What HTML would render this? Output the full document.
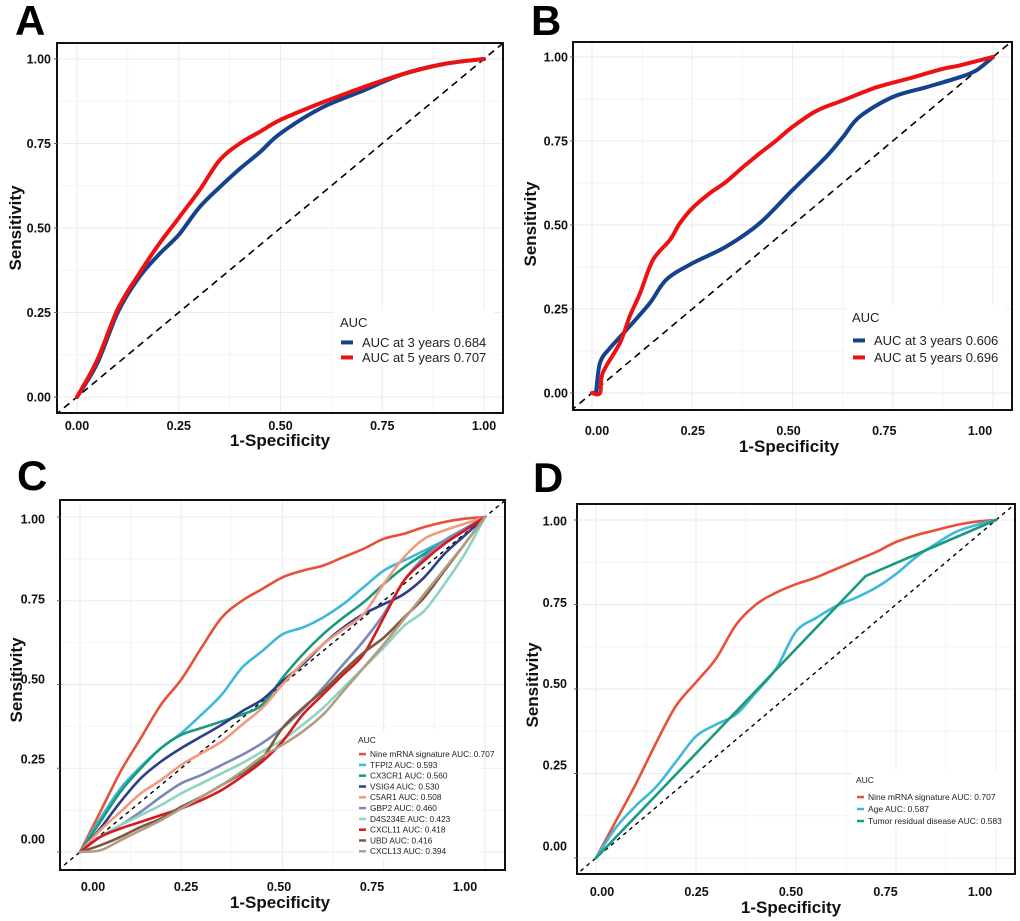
<!DOCTYPE html>
<html><head><meta charset="utf-8">
<style>
html,body{margin:0;padding:0;background:#fff;}
svg{display:block;font-family:"Liberation Sans",Arial,sans-serif;}
</style></head>
<body>
<svg id="fig" width="1020" height="921" viewBox="0 0 1020 921" xmlns="http://www.w3.org/2000/svg"></svg>
<script>
// ---------- data ----------
const tickLabels = ["0.00","0.25","0.50","0.75","1.00"];
const tickValues = [0,0.25,0.5,0.75,1];
const grid = [0,.05,.1,.15,.2,.25,.3,.35,.4,.45,.5,.55,.6,.65,.7,.75,.8,.85,.9,.95,1];

// Panel A
const aFpr = [0,.05,.1,.15,.2,.25,.3,.35,.4,.45,.5,.6,.7,.8,.9,1];
const aRed5 = [0,.11,.26,.36,.45,.53,.61,.70,.75,.785,.82,.87,.915,.955,.985,1];
const aBlue3 = [0,.10,.25,.35,.42,.48,.56,.62,.675,.725,.78,.855,.905,.955,.985,1];
const aLabels = ["AUC at 3 years 0.684","AUC at 5 years 0.707"];

// Panel B
const bBlueFpr = [.01,.02,.045,.086,.144,.185,.25,.335,.418,.5,.584,.626,.667,.75,.834,.917,.958,1];
const bBlue3 = [0,.09,.134,.188,.267,.337,.386,.436,.505,.604,.703,.762,.822,.881,.91,.94,.96,1];
const bRedFpr = [0,.02,.027,.07,.094,.12,.152,.194,.219,.25,.293,.335,.377,.418,.46,.5,.56,.626,.71,.79,.875,.917,1];
const bRed5 = [0,0,.06,.15,.228,.297,.396,.455,.505,.55,.594,.629,.673,.713,.752,.792,.84,.871,.91,.936,.965,.975,1];
const bLabels = ["AUC at 3 years 0.606","AUC at 5 years 0.696"];

// Panel C
const cNames = ["Nine mRNA signature AUC: 0.707","TFPI2  AUC: 0.593","CX3CR1  AUC: 0.560","VSIG4  AUC: 0.530","C5AR1  AUC: 0.508","GBP2  AUC: 0.460","D4S234E  AUC: 0.423","CXCL11  AUC: 0.418","UBD  AUC: 0.416","CXCL13  AUC: 0.394"];
const cColors = ["#e8503a","#3fb8da","#1a9a7f","#2c3f86","#f29a7e","#7b87b8","#8fd3c1","#d7191c","#7a5a3f","#b39c85"];
const cNine   = [0,.12,.24,.34,.44,.515,.61,.70,.75,.785,.82,.84,.855,.88,.905,.935,.95,.97,.985,.995,1];
const cTFPI2  = [0,.10,.19,.255,.31,.355,.41,.47,.55,.60,.65,.67,.70,.74,.79,.84,.87,.90,.93,.965,1];
const cCX3CR1 = [0,.09,.18,.25,.31,.35,.37,.39,.41,.44,.52,.59,.65,.70,.745,.80,.85,.89,.93,.965,1];
const cVSIG4  = [0,.07,.15,.22,.27,.31,.345,.38,.42,.455,.51,.56,.62,.67,.71,.74,.77,.82,.89,.945,1];
const cC5AR1  = [0,.065,.12,.175,.215,.26,.295,.33,.38,.43,.50,.565,.62,.665,.71,.80,.88,.935,.96,.98,1];
const cGBP2   = [0,.045,.08,.12,.165,.205,.23,.26,.29,.325,.37,.425,.49,.56,.63,.71,.81,.88,.93,.965,1];
const cD4S234E= [0,.045,.08,.11,.14,.175,.205,.235,.265,.30,.335,.38,.43,.49,.55,.61,.675,.72,.80,.89,1];
const cCXCL11 = [0,.045,.07,.09,.11,.13,.155,.185,.225,.27,.33,.41,.47,.53,.59,.70,.81,.87,.92,.96,1];
const cUBD    = [0,.02,.045,.075,.10,.135,.165,.20,.235,.28,.37,.43,.48,.54,.595,.64,.70,.76,.84,.92,1];
const cCXCL13 = [0,.005,.035,.065,.095,.13,.165,.20,.24,.285,.32,.36,.41,.48,.55,.62,.695,.77,.845,.92,1];
const cSeries = [cNine,cTFPI2,cCX3CR1,cVSIG4,cC5AR1,cGBP2,cD4S234E,cCXCL11,cUBD,cCXCL13];

// Panel D
const dNames = ["Nine mRNA signature AUC: 0.707","Age AUC: 0.587","Tumor residual disease AUC: 0.583"];
const dColors = ["#e8503a","#3fb8da","#1a9a7f"];
const dNine = [0,.11,.22,.34,.45,.52,.59,.69,.75,.785,.81,.83,.855,.88,.905,.935,.955,.97,.985,.995,1];
const dAge  = [0,.09,.155,.21,.285,.36,.395,.425,.49,.56,.67,.71,.745,.77,.80,.84,.89,.93,.965,.985,1];
const dTumorFpr = [0,.674,1];
const dTumor = [0,.834,1];

// ---------- helpers ----------
const NS="http://www.w3.org/2000/svg";
const svg=document.getElementById('fig');
function el(tag,attrs,parent){const e=document.createElementNS(NS,tag);for(const k in attrs)e.setAttribute(k,attrs[k]);(parent||svg).appendChild(e);return e;}
function smoothPath(pts){
  let d="M"+pts[0][0].toFixed(1)+","+pts[0][1].toFixed(1);
  for(let i=0;i<pts.length-1;i++){
    const p0=pts[Math.max(0,i-1)],p1=pts[i],p2=pts[i+1],p3=pts[Math.min(pts.length-1,i+2)];
    const c1=[p1[0]+(p2[0]-p0[0])/6,p1[1]+(p2[1]-p0[1])/6];
    const c2=[p2[0]-(p3[0]-p1[0])/6,p2[1]-(p3[1]-p1[1])/6];
    d+="C"+c1[0].toFixed(1)+","+c1[1].toFixed(1)+" "+c2[0].toFixed(1)+","+c2[1].toFixed(1)+" "+p2[0].toFixed(1)+","+p2[1].toFixed(1);
  }
  return d;
}
let clipId=0;
function makePanel(cfg){
  const g=el('g',{});
  
  
  const sx=v=>cfg.x0+(cfg.x1-cfg.x0)*v;
  const sy=v=>cfg.y0+(cfg.y1-cfg.y0)*v;
  const lx=v=>cfg.lx0+(cfg.lx1-cfg.lx0)*v;
  const ly=v=>cfg.ly0+(cfg.ly1-cfg.ly0)*v;
  const b=cfg.box;
  const id='clip'+(clipId++);
  const cp=el('clipPath',{id:id},g);el('rect',{x:b[0],y:b[1],width:b[2]-b[0],height:b[3]-b[1]},cp);
  const gridG=el('g',{'clip-path':'url(#'+id+')'},g);
  
  for(let i=0;i<tickValues.length;i++){
    const v=tickValues[i];
    el('line',{x1:sx(v),x2:sx(v),y1:b[1],y2:b[3],stroke:'#ebebeb','stroke-width':1},gridG);
    el('line',{y1:sy(v),y2:sy(v),x1:b[0],x2:b[2],stroke:'#ebebeb','stroke-width':1},gridG);
    if(i<tickValues.length-1){const m=v+0.125;
      el('line',{x1:sx(m),x2:sx(m),y1:b[1],y2:b[3],stroke:'#f4f4f4','stroke-width':1},gridG);
      el('line',{y1:sy(m),y2:sy(m),x1:b[0],x2:b[2],stroke:'#f4f4f4','stroke-width':1},gridG);}
  }
  const dg=el('line',{x1:sx(-0.1),y1:sy(-0.1),x2:sx(1.1),y2:sy(1.1),stroke:'#000','stroke-width':cfg.dashW,'stroke-dasharray':cfg.dash,'clip-path':'url(#'+id+')'},g);
  
  const cg=el('g',{'clip-path':'url(#'+id+')',fill:'none','stroke-linejoin':'round','stroke-linecap':'round'},g);
  cfg.series.forEach(s=>{
    const pts=s.fpr.map((f,i)=>[sx(f),sy(s.tpr[i])]);
    const p=el('path',{d:s.straight?("M"+pts.map(q=>q[0]+","+q[1]).join("L")):smoothPath(pts),stroke:s.color,'stroke-width':cfg.lw},cg);
    
  });
  const border=el('rect',{x:b[0],y:b[1],width:b[2]-b[0],height:b[3]-b[1],fill:'none',stroke:'#111','stroke-width':2},g);
  
  const xt=el('g',{'font-size':cfg.tickFs,'font-weight':'bold','text-anchor':'middle',fill:'#111'},g);
  
  const yt=el('g',{'font-size':cfg.tickFs,'font-weight':'bold','text-anchor':'end',fill:'#111'},g);
  
  tickValues.forEach((v,i)=>{
    const t=el('text',{x:lx(v),y:cfg.xTickY},xt);t.textContent=tickLabels[i];
    
    const u=el('text',{x:cfg.yTickX,y:ly(v)+4.5},yt);u.textContent=tickLabels[i];
    
    el('line',{x1:b[0]-3,x2:b[0],y1:sy(v),y2:sy(v),stroke:'#666','stroke-width':1},g);
  });
  const xtitle=el('text',{x:cfg.xTitle[0],y:cfg.xTitle[1],'font-size':17,'font-weight':'bold','text-anchor':'middle',fill:'#111'},g);
  xtitle.textContent='1-Specificity';
  const ytitle=el('text',{x:0,y:0,'font-size':17,'font-weight':'bold','text-anchor':'middle',fill:'#111',transform:'translate('+cfg.yTitle[0]+','+cfg.yTitle[1]+') rotate(-90)'},g);
  ytitle.textContent='Sensitivity';
  const lt=el('text',{x:cfg.letterPos[0],y:cfg.letterPos[1],'font-size':42,'font-weight':'bold',fill:'#000'},g);
  lt.textContent=cfg.letter;
  const L=cfg.legend;
  const lg=el('g',{},g);
  el('rect',{x:L.bx,y:L.by,width:L.bw,height:L.bh,fill:'#fff'},lg);
  const lh=el('text',{x:L.x,y:L.y,'font-size':L.hfs,fill:'#222'},lg);lh.textContent='AUC';
  
  cfg.series.forEach((s,i)=>{
    const yy=L.y0+i*L.step;
    const e=el('g',{},lg);
    el('line',{x1:L.x+1,x2:L.x+1+L.sw,y1:yy-L.fs*0.35,y2:yy-L.fs*0.35,stroke:s.color,'stroke-width':L.swh},e);
    const t=el('text',{x:L.x+L.sw+L.gap,y:yy,'font-size':L.fs,fill:'#222'},e);t.textContent=s.label;
  });
}

makePanel({letter:'A',letterPos:[15,35],box:[57,43,503,413],x0:77,x1:484,y0:397,y1:59,lx0:77,lx1:484,ly0:397,ly1:59,
  xTickY:430,yTickX:51,tickFs:12.5,xTitle:[280,446],yTitle:[21,228],lw:4,dash:'7,5',dashW:1.6,
  series:[{fpr:aFpr,tpr:aBlue3,color:'#15428f',name:'curve-3-years',label:aLabels[0]},
          {fpr:aFpr,tpr:aRed5,color:'#ee1111',name:'curve-5-years',label:aLabels[1]}],
  legend:{bx:334,by:310,bw:160,bh:56,x:340,y:327,hfs:13,y0:347,step:15,fs:13,sw:12,swh:4,gap:10}});

makePanel({letter:'B',letterPos:[531,35],box:[573,42,1012,410],x0:592,x1:993,y0:393,y1:57,lx0:597,lx1:980,ly0:393,ly1:57,
  xTickY:435,yTickX:568,tickFs:12.5,xTitle:[789,452],yTitle:[536,224],lw:4,dash:'7,5',dashW:1.6,
  series:[{fpr:bBlueFpr,tpr:bBlue3,color:'#15428f',name:'curve-3-years',label:bLabels[0]},
          {fpr:bRedFpr,tpr:bRed5,color:'#ee1111',name:'curve-5-years',label:bLabels[1]}],
  legend:{bx:846,by:305,bw:160,bh:60,x:852,y:322,hfs:13,y0:345,step:17,fs:13,sw:12,swh:4,gap:10}});

makePanel({letter:'C',letterPos:[17,490],box:[60,500,505,870],x0:80,x1:485,y0:852,y1:517,lx0:93,lx1:465,ly0:839,ly1:519,
  xTickY:891,yTickX:45,tickFs:12.5,xTitle:[280,908],yTitle:[22,680],lw:2.6,dash:'4,4',dashW:1.4,
  series:cSeries.map((s,i)=>({fpr:grid,tpr:s,color:cColors[i],name:'curve-'+cNames[i].split(' ')[0].toLowerCase(),label:cNames[i]})),
  legend:{bx:354,by:731,bw:126,bh:128,x:358,y:743,hfs:8.5,y0:757,step:10.8,fs:8.3,sw:7,swh:2.5,gap:5}});

makePanel({letter:'D',letterPos:[533,492],box:[577,504,1015,874],x0:596,x1:996,y0:858,y1:520,lx0:602,lx1:980,ly0:846,ly1:521,
  xTickY:896,yTickX:567,tickFs:12.5,xTitle:[791,913],yTitle:[538,685],lw:2.6,dash:'4,4',dashW:1.4,
  series:[{fpr:grid,tpr:dNine,color:dColors[0],name:'curve-nine-mrna',label:dNames[0]},
          {fpr:grid,tpr:dAge,color:dColors[1],name:'curve-age',label:dNames[1]},
          {fpr:dTumorFpr,tpr:dTumor,color:dColors[2],name:'curve-tumor-residual',label:dNames[2],straight:true}],
  legend:{bx:852,by:770,bw:160,bh:58,x:856,y:783,hfs:8.5,y0:800,step:12,fs:8.5,sw:7,swh:2.5,gap:5}});
</script>
</body></html>
